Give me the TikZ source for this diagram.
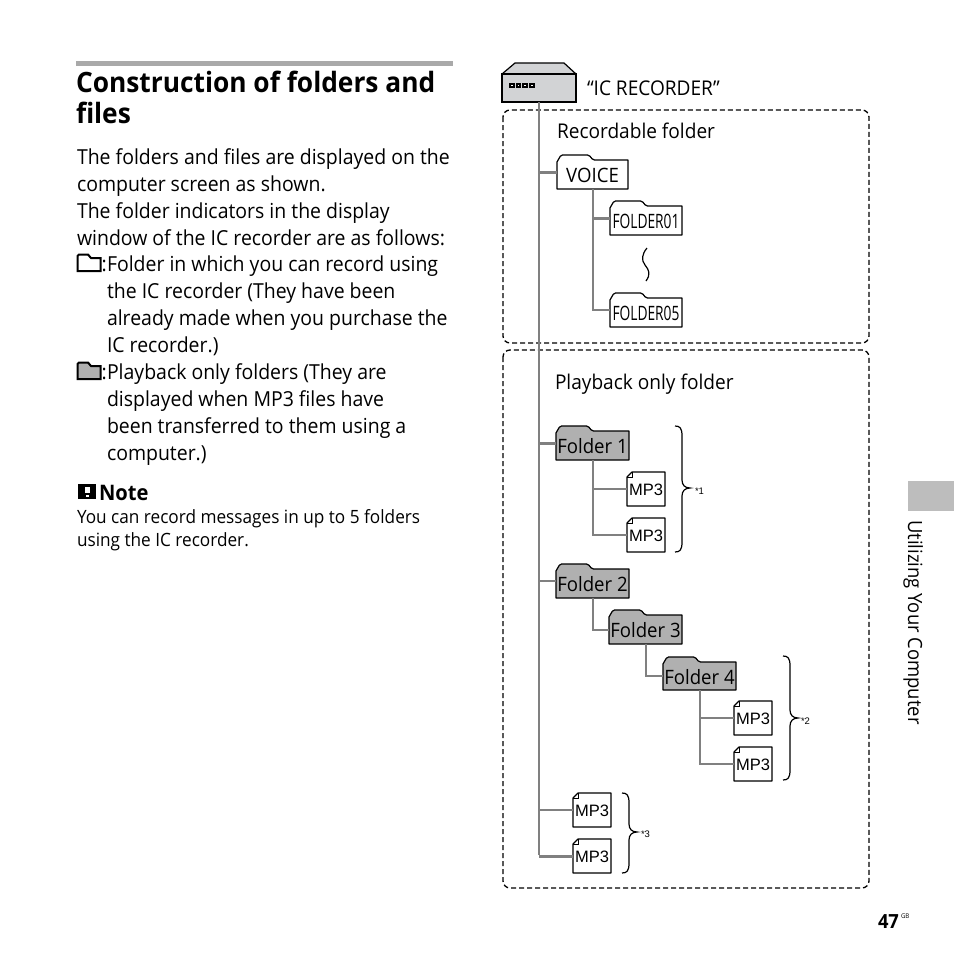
\documentclass[tikz,border=0pt]{standalone}
\usepackage{fontspec}
\usepackage{graphicx}
\setmainfont[FakeStretch=0.94]{Open Sans}
\newfontfamily\arialf{Liberation Sans}
\definecolor{trunk}{HTML}{808080}
\definecolor{fgray}{HTML}{B0B0B0}
\definecolor{devgray}{HTML}{D2D3D5}
\definecolor{bargray}{HTML}{A9A9A9}
\definecolor{tabgray}{HTML}{BDBDBD}
\tikzset{
  conn/.style={draw=trunk,line width=2pt},
  connb/.style={draw=trunk,line width=3pt},
  outl/.style={draw=black,line width=1.2pt,line join=round},
  dashbox/.style={draw=black,line width=1.3pt,dash pattern=on 5pt off 3pt,rounded corners=7pt},
  lbl/.style={anchor=base west,inner sep=0pt,outer sep=0pt,text=black},
  body/.style={lbl,font=\fontsize{20.7}{21}\selectfont},
  small/.style={lbl,font=\fontsize{18.3}{19}\selectfont},
  dia/.style={lbl,font=\fontsize{20.3}{21}\selectfont},
  brace/.style={draw=black,line width=1.2pt},
  ftext/.style={inner sep=0pt,outer sep=0pt,text height=18.6pt,text depth=2pt,font=\fontsize{19.8}{20}\selectfont},
}
% name, x, y(body top), w, h, fill, text
\newcommand\folderbox[7]{%
  \filldraw[outl,fill=#6] (#2,#3+#5) -- (#2,#3+2) [rounded corners=1.5pt] -- (#2+4,#3-5) -- (#2+32,#3-5) -- (#2+36,#3) [rounded corners=0pt] -- (#2+#4,#3) -- (#2+#4,#3+#5) -- cycle;
  \node[ftext,minimum width=#4 pt,minimum height=#5 pt,anchor=north west] (#1) at (#2,#3) {#7};
  \coordinate (#1-in) at (#2,#3+12);
}
\newcommand\mpthree[3]{%
  \filldraw[outl,fill=white] (#2,#3+5) -- (#2+5,#3) -- (#2+38,#3) -- (#2+38,#3+34) -- (#2,#3+34) -- cycle;
  \draw[line width=.8pt] (#2,#3+5) -- (#2+5,#3+5) -- (#2+5,#3);
  \node[inner sep=0pt,outer sep=0pt,minimum width=38pt,minimum height=34pt,anchor=north west,text height=15.8pt,text depth=2pt,font=\arialf\fontsize{16.5}{17}\selectfont] (#1) at (#2,#3) {MP3};
}
\newcommand\bracer[4]{%
  \draw[brace] (#1,#2) .. controls (#1+5,#2) and (#1+7,#2+2) .. (#1+7,#2+10) -- (#1+7,#3-8)
    .. controls (#1+7,#3-3) and (#1+10,#3) .. (#1+15,#3)
    .. controls (#1+10,#3) and (#1+7,#3+3) .. (#1+7,#3+8) -- (#1+7,#4-10)
    .. controls (#1+7,#4-2) and (#1+5,#4) .. (#1,#4);
}
\begin{document}
\begin{tikzpicture}[x=1pt,y=-1pt]
\useasboundingbox (0,0) rectangle (954,954);
% left column
\fill[bargray] (76,61) rectangle (453,66);
\node[lbl,font=\bfseries\fontsize{28}{29}\selectfont] (t1) at (76,92) {Construction of folders and};
\node[lbl,font=\bfseries\fontsize{28}{29}\selectfont] (t2) at (76,123) {files};
\node[body] (b1) at (77,164) {The folders and files are displayed on the};
\node[body] (b2) at (77,191) {computer screen as shown.};
\node[body] (b3) at (77,218) {The folder indicators in the display};
\node[body] (b4) at (77,245) {window of the IC recorder are as follows:};
\filldraw[draw=black,line width=2pt,fill=white] (77.5,271) -- (77.5,256) -- (79,254.5) -- (88,254.5) -- (91,258) -- (100.5,258) -- (100.5,271) -- cycle;
\node[body] (c1) at (101.5,271) {:};
\node[body] (b5) at (107,271) {Folder in which you can record using};
\node[body] (b6) at (107,298) {the IC recorder (They have been};
\node[body] (b7) at (107,325) {already made when you purchase the};
\node[body] (b8) at (107,352) {IC recorder.)};
\filldraw[draw=black,line width=2pt,fill=fgray] (77.5,379) -- (77.5,364) -- (79,362.5) -- (88,362.5) -- (91,366) -- (100.5,366) -- (100.5,379) -- cycle;
\node[body] (c2) at (101.5,379) {:};
\node[body] (b9) at (107,379) {Playback only folders (They are};
\node[body] (b10) at (107,406) {displayed when MP3 files have};
\node[body] (b11) at (107,433) {been transferred to them using a};
\node[body] (b12) at (107,460) {computer.)};
\fill[black] (78,484) rectangle (96,499);
\fill[white] (84.5,487) rectangle (89.5,493);
\fill[white] (85.5,494.5) rectangle (88.5,497);
\node[lbl,font=\bfseries\fontsize{21.4}{22}\selectfont] (note) at (99,500.5) {Note};
\node[small] (s1) at (77,523) {You can record messages in up to 5 folders};
\node[small] (s2) at (77,546) {using the IC recorder.};
% side tab
\fill[tabgray] (908,481) rectangle (954,511);
\node[rotate=-90,anchor=base west,inner sep=0pt,font=\fontsize{19.6}{20}\selectfont] (side) at (908,520) {Utilizing Your Computer};
\node[lbl,font=\bfseries\fontsize{19.5}{20}\selectfont] (pg) at (878,928) {47};
\node[lbl,font=\fontsize{6.5}{7}\selectfont] (gb) at (901,918) {GB};
% dashed boxes
\draw[dashbox] (503,110) rectangle (869,343);
\draw[dashbox] (503,350) rectangle (869,888);
% recorder
\filldraw[outl,fill=devgray] (502,74) -- (515,63) -- (564,63) -- (576,74) -- cycle;
\node[draw=black,line width=1.2pt,fill=devgray,minimum width=74pt,minimum height=28pt,inner sep=0pt,outer sep=0pt,anchor=north west] (ic) at (502,74) {};
\foreach \q in {509,515.7,522.4,529.1}{\fill[black] (\q,83) rectangle +(5.5,5); \fill[white] (\q+1.8,84.6) rectangle +(1.8,1.8);}
\node[dia] (iclbl) at (587,95) {“IC RECORDER”};
\node[dia] (rec) at (557,138) {Recordable folder};
\node[dia] (pbk) at (555,389) {Playback only folder};
% nodes
\coordinate (tend) at (539,855);
\draw[conn] (ic.south) -- (tend);
\folderbox{voice}{557}{160}{71}{29}{white}{VOICE}
\folderbox{fa}{610}{206}{72}{29}{white}{\scalebox{.74}[1]{FOLDER01}}
\folderbox{fb}{610}{298}{72}{29}{white}{\scalebox{.74}[1]{FOLDER05}}
\folderbox{fo}{556}{431}{73}{29}{fgray}{Folder 1}
\folderbox{fp}{556}{569}{73}{29}{fgray}{Folder 2}
\folderbox{fq}{609}{615}{73}{29}{fgray}{Folder 3}
\folderbox{fr}{663}{662}{73}{28}{fgray}{Folder 4}
\mpthree{ma}{627}{472}
\mpthree{mb}{627}{518}
\mpthree{mc}{734}{701}
\mpthree{md}{734}{747}
\mpthree{me}{573}{793}
\mpthree{mf}{573}{839}
% connectors
\draw[connb] (ic.south |- voice-in) -- (voice-in);
\draw[conn] (voice.south) |- (fb-in);
\draw[connb] (voice.south |- fa-in) -- (fa-in);
\draw[connb] (ic.south |- fo-in) -- (fo-in);
\draw[conn] (ic.south |- fp-in) -- (fp-in);
\draw[conn] (fo.south) |- (mb.west);
\draw[conn] (fo.south |- ma.west) -- (ma.west);
\draw[conn] (fp.south) |- (fq.west);
\draw[conn] (fq.south) |- (fr.west);
\draw[conn] (fr.south) |- (md.west);
\draw[conn] (fr.south |- mc.west) -- (mc.west);
\draw[conn] (ic.south |- me.west) -- (me.west);
\draw[connb] (ic.south |- mf.west) -- (mf.west);
% squiggle
\draw[line width=1.2pt] (647,248) .. controls (642,254) and (641,260) .. (645,265) .. controls (649,270) and (651,274) .. (646,281);
% braces
\bracer{675}{426}{488}{552}
\bracer{783}{656}{718}{780}
\bracer{622}{793}{832}{873}
\node[lbl,font=\arialf\fontsize{9.5}{10}\selectfont] (n1) at (695,494) {*1};
\node[lbl,font=\arialf\fontsize{9.5}{10}\selectfont] (n2) at (801,724) {*2};
\node[lbl,font=\arialf\fontsize{9.5}{10}\selectfont] (n3) at (641,837) {*3};
\end{tikzpicture}
\end{document}
